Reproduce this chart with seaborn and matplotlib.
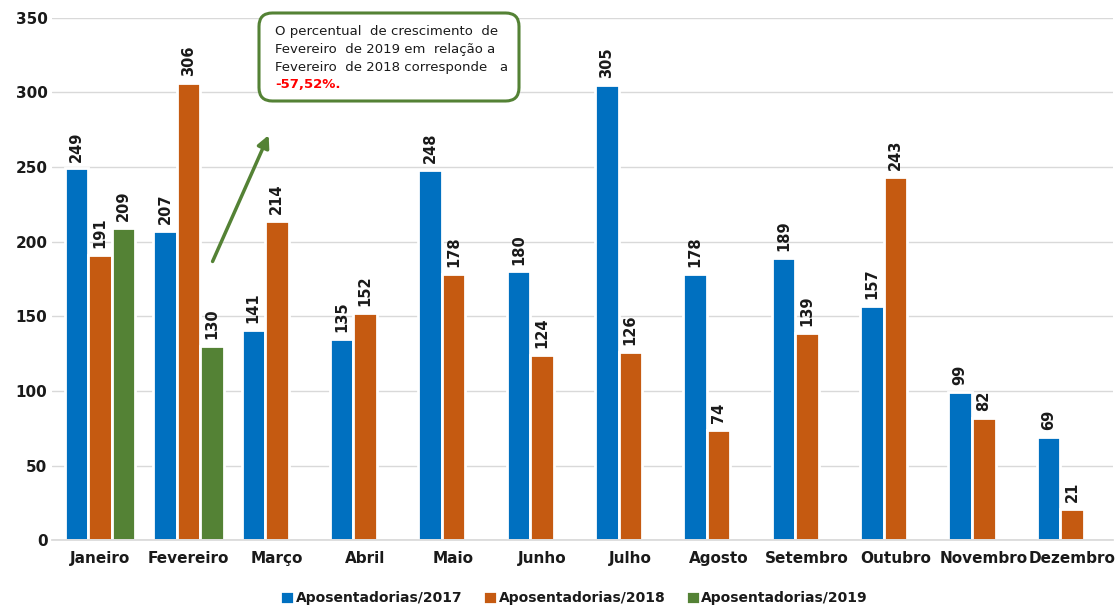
import matplotlib
matplotlib.use("Agg")
import matplotlib.pyplot as plt
import seaborn as sns
import pandas as pd
import numpy as np
from matplotlib.patches import FancyBboxPatch

months = ["Janeiro", "Fevereiro", "Março", "Abril", "Maio", "Junho", "Julho",
          "Agosto", "Setembro", "Outubro", "Novembro", "Dezembro"]
series = ["Aposentadorias/2017", "Aposentadorias/2018", "Aposentadorias/2019"]
v2017 = [249, 207, 141, 135, 248, 180, 305, 178, 189, 157, 99, 69]
v2018 = [191, 306, 214, 152, 178, 124, 126, 74, 139, 243, 82, 21]
v2019 = [209, 130] + [np.nan] * 10
colors = ["#0070C0", "#C55A11", "#548235"]

rows = []
for s, vals in zip(series, [v2017, v2018, v2019]):
    for m, v in zip(months, vals):
        rows.append({"mes": m, "serie": s, "valor": v})
df = pd.DataFrame(rows)

sns.set_theme(style="white")
plt.rcParams['font.family'] = ['DejaVu Sans']

fig = plt.figure(figsize=(11.15, 6.09), dpi=100)
ax = fig.add_axes([0.047, 0.113, 0.951, 0.858])

sns.barplot(data=df, x="mes", y="valor", hue="serie", order=months,
            hue_order=series, palette=colors, width=0.8, ax=ax,
            edgecolor="white", linewidth=2, saturation=1, errorbar=None)

ax.set_ylim(0, 350)
ax.set_xlim(-0.54, 11.46)
ax.set_yticks(range(0, 351, 50))
ax.yaxis.grid(True, color="#D9D9D9", linewidth=1)
ax.set_axisbelow(True)
for sp in ["top", "right", "left"]:
    ax.spines[sp].set_visible(False)
ax.spines["bottom"].set_color("#D9D9D9")
ax.set_xlabel("")
ax.set_ylabel("")
ax.tick_params(axis="both", length=0, labelsize=11, colors="#1a1a1a")
ax.tick_params(axis="x", pad=8)
for lab in ax.get_xticklabels() + ax.get_yticklabels():
    lab.set_fontweight("bold")

for cont in ax.containers:
    labels = ["" if np.isnan(v) else f"{int(v)}" for v in cont.datavalues]
    ax.bar_label(cont, labels=labels, rotation=90, padding=5,
                 fontsize=10.5, fontweight="bold", color="#1a1a1a")

leg = ax.legend(loc="lower center", bbox_to_anchor=(0.515, -0.005),
                bbox_transform=fig.transFigure, ncol=3,
                frameon=False, fontsize=10, handlelength=1.0, handleheight=1.0,
                handletextpad=0.1, columnspacing=1.5, borderaxespad=0.1)
for t in leg.get_texts():
    t.set_fontweight("bold")
    t.set_color("#1a1a1a")

# arrow
ax.annotate("", xy=(1.92, 273), xytext=(1.26, 185),
            arrowprops=dict(arrowstyle="-|>", color="#548235", lw=2.5,
                            mutation_scale=18))

# annotation box (figure coords)
W, H = 1115, 609
box = FancyBboxPatch((259 / W, 1 - 101 / H), (519 - 259) / W, (101 - 13) / H,
                     boxstyle="round,pad=0,rounding_size=0.012",
                     transform=fig.transFigure, facecolor="white",
                     edgecolor="#548235", linewidth=2.2, zorder=10,
                     mutation_aspect=W / H)
fig.patches.append(box)
lines = ["O percentual  de crescimento  de",
         "Fevereiro  de 2019 em  relação a",
         "Fevereiro  de 2018 corresponde   a"]
for i, l in enumerate(lines):
    fig.text(275 / W, 1 - (31 + 18 * i) / H, l, fontsize=9.5, color="#1a1a1a",
             va="center", ha="left", zorder=11)
fig.text(275 / W, 1 - 85 / H, "-57,52%.", fontsize=9.5, color="#FF0000",
         fontweight="bold", va="center", ha="left", zorder=11)

fig.savefig("out.png", dpi=100, facecolor="white")
